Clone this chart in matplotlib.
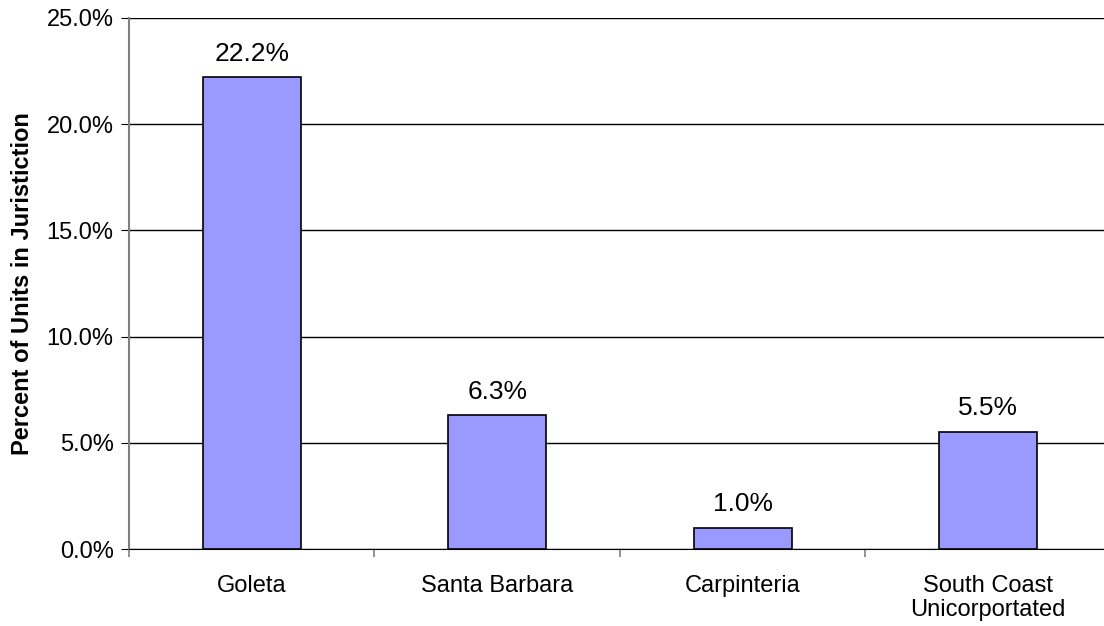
import matplotlib
matplotlib.use('Agg')
import matplotlib.pyplot as plt
from matplotlib.ticker import FuncFormatter

plt.rcParams['font.family'] = ['Liberation Sans', 'DejaVu Sans']

places = ['Goleta', 'Santa Barbara', 'Carpinteria', 'South Coast\nUnicorportated']
pct = [22.2, 6.3, 1.0, 5.5]
yticks = [0, 5, 10, 15, 20, 25]

fig = plt.figure(figsize=(11.04, 6.26), dpi=100)
# x runs -0.5..3.5; the right end is past the figure edge
ax = fig.add_axes([129/1104, 77/626, 982/1104, 531/626])

xs = range(len(places))
bars = ax.bar(xs, pct, width=0.4, color='#9999ff', edgecolor='black', linewidth=1.2, zorder=3)
for x, v in zip(xs, pct):
    ax.text(x, v + 0.55, f'{v:.1f}%', ha='center', va='bottom', fontsize=19)

ax.set_xlim(-0.5, 3.5)
ax.set_ylim(0, 25)
ax.set_yticks(yticks)
ax.yaxis.set_major_formatter(FuncFormatter(lambda v, p: f'{v:.1f}%'))
ax.grid(axis='y', color='black', linewidth=1, zorder=0)
ax.set_axisbelow(True)

ax.set_xticks([i + 0.5 for i in range(-1, 4)])
ax.set_xticklabels([])
ax.set_xticks(list(xs), minor=True)
ax.set_xticklabels(places, minor=True, fontsize=17, linespacing=1.1)
ax.tick_params(axis='x', which='minor', length=0, pad=19)
ax.tick_params(axis='x', which='major', length=6, color='#808080', width=1.2)
ax.tick_params(axis='y', length=6, labelsize=17, pad=5, color='black')

for s in ['top', 'right']:
    ax.spines[s].set_visible(False)
ax.spines['left'].set_color('#808080')
ax.spines['left'].set_linewidth(1.5)
ax.spines['bottom'].set_color('black')

ax.set_ylabel('Percent of Units in Juristiction', fontsize=17, fontweight='bold', labelpad=9)

fig.savefig('out.png', dpi=100)
